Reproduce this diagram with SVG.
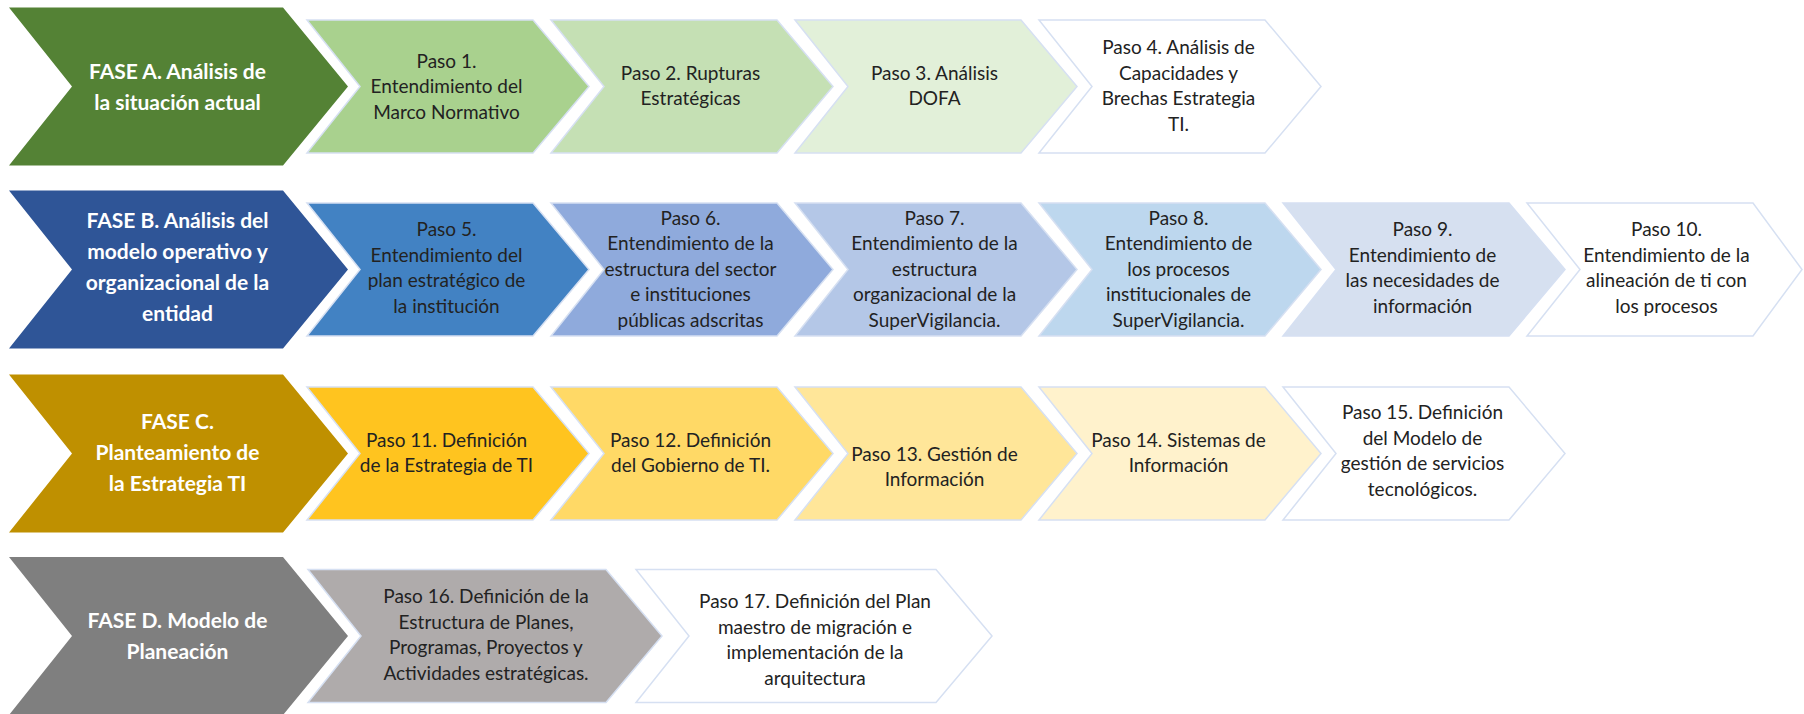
<svg xmlns="http://www.w3.org/2000/svg" width="1804" height="714" viewBox="0 0 1804 714">
<style>
.fase{stroke:none}
.step{stroke:#D6E0F2;stroke-width:1.5}
.ft{font-family:Lato,"Liberation Sans",sans-serif;font-weight:bold;font-size:21px;fill:#FFFFFF;text-anchor:middle}
.st{font-family:Lato,"Liberation Sans",sans-serif;font-size:19px;fill:#222222;text-anchor:middle}
.gA{fill:#548235}.a1{fill:#A9D18E}.a2{fill:#C5E0B4}.a3{fill:#E2F0D9}
.gB{fill:#2F5597}.b1{fill:#4282C3}.b2{fill:#8FAADC}.b3{fill:#B4C7E7}.b4{fill:#BDD7EE}.b5{fill:#D6E0F0}
.gC{fill:#BF9000}.c1{fill:#FFC41F}.c2{fill:#FFD966}.c3{fill:#FFE699}.c4{fill:#FFF2CC}
.gD{fill:#7F7F7F}.d1{fill:#AFABAB}
.w{fill:#FFFFFF}
</style>
<rect width="1804" height="714" fill="#FFFFFF"/>

<!-- Row A -->
<g id="faseA"><polygon class="fase gA" points="9,7.5 283,7.5 348,86.5 283,165.5 9,165.5 72,86.5"/>
<text class="ft" x="177.5" y="78.5">FASE A. Análisis de<tspan x="177.5" dy="31">la situación actual</tspan></text></g>
<g id="paso1"><polygon class="step a1" points="307,20 533,20 589,86.5 533,153 307,153 360,86.5"/>
<text class="st" x="446.5" y="67.5">Paso 1.<tspan x="446.5" dy="25.5">Entendimiento del</tspan><tspan x="446.5" dy="25.5">Marco Normativo</tspan></text></g>
<g id="paso2"><polygon class="step a2" points="551,20 777,20 833,86.5 777,153 551,153 604,86.5"/>
<text class="st" x="690.5" y="79.75">Paso 2. Rupturas<tspan x="690.5" dy="25.5">Estratégicas</tspan></text></g>
<g id="paso3"><polygon class="step a3" points="795,20 1021,20 1077,86.5 1021,153 795,153 848,86.5"/>
<text class="st" x="934.5" y="79.75">Paso 3. Análisis<tspan x="934.5" dy="25.5">DOFA</tspan></text></g>
<g id="paso4"><polygon class="step w" points="1039,20 1265,20 1321,86.5 1265,153 1039,153 1092,86.5"/>
<text class="st" x="1178.5" y="54.25">Paso 4. Análisis de<tspan x="1178.5" dy="25.5">Capacidades y</tspan><tspan x="1178.5" dy="25.5">Brechas Estrategia</tspan><tspan x="1178.5" dy="25.5">TI.</tspan></text></g>

<!-- Row B -->
<g id="faseB"><polygon class="fase gB" points="9,190.5 283,190.5 348,269.5 283,348.5 9,348.5 72,269.5"/>
<text class="ft" x="177.5" y="228">FASE B. Análisis del<tspan x="177.5" dy="31">modelo operativo y</tspan><tspan x="177.5" dy="31">organizacional de la</tspan><tspan x="177.5" dy="31">entidad</tspan></text></g>
<g id="paso5"><polygon class="step b1" points="307,203 533,203 589,269.5 533,336 307,336 360,269.5"/>
<text class="st" x="446.5" y="236.25">Paso 5.<tspan x="446.5" dy="25.5">Entendimiento del</tspan><tspan x="446.5" dy="25.5">plan estratégico de</tspan><tspan x="446.5" dy="25.5">la institución</tspan></text></g>
<g id="paso6"><polygon class="step b2" points="551,203 777,203 833,269.5 777,336 551,336 604,269.5"/>
<text class="st" x="690.5" y="224.5">Paso 6.<tspan x="690.5" dy="25.5">Entendimiento de la</tspan><tspan x="690.5" dy="25.5">estructura del sector</tspan><tspan x="690.5" dy="25.5">e instituciones</tspan><tspan x="690.5" dy="25.5">públicas adscritas</tspan></text></g>
<g id="paso7"><polygon class="step b3" points="795,203 1021,203 1077,269.5 1021,336 795,336 848,269.5"/>
<text class="st" x="934.5" y="224.5">Paso 7.<tspan x="934.5" dy="25.5">Entendimiento de la</tspan><tspan x="934.5" dy="25.5">estructura</tspan><tspan x="934.5" dy="25.5">organizacional de la</tspan><tspan x="934.5" dy="25.5">SuperVigilancia.</tspan></text></g>
<g id="paso8"><polygon class="step b4" points="1039,203 1265,203 1321,269.5 1265,336 1039,336 1092,269.5"/>
<text class="st" x="1178.5" y="224.5">Paso 8.<tspan x="1178.5" dy="25.5">Entendimiento de</tspan><tspan x="1178.5" dy="25.5">los procesos</tspan><tspan x="1178.5" dy="25.5">institucionales de</tspan><tspan x="1178.5" dy="25.5">SuperVigilancia.</tspan></text></g>
<g id="paso9"><polygon class="step b5" points="1283,203 1509,203 1565,269.5 1509,336 1283,336 1336,269.5"/>
<text class="st" x="1422.5" y="236.25">Paso 9.<tspan x="1422.5" dy="25.5">Entendimiento de</tspan><tspan x="1422.5" dy="25.5">las necesidades de</tspan><tspan x="1422.5" dy="25.5">información</tspan></text></g>
<g id="paso10"><polygon class="step w" points="1527,203 1753,203 1802,269.5 1753,336 1527,336 1580,269.5"/>
<text class="st" x="1666.5" y="236.25">Paso 10.<tspan x="1666.5" dy="25.5">Entendimiento de la</tspan><tspan x="1666.5" dy="25.5">alineación de ti con</tspan><tspan x="1666.5" dy="25.5">los procesos</tspan></text></g>

<!-- Row C -->
<g id="faseC"><polygon class="fase gC" points="9,374.5 283,374.5 348,453.5 283,532.5 9,532.5 72,453.5"/>
<text class="ft" x="177.5" y="428.5">FASE C.<tspan x="177.5" dy="31">Planteamiento de</tspan><tspan x="177.5" dy="31">la Estrategia TI</tspan></text></g>
<g id="paso11"><polygon class="step c1" points="307,387 533,387 589,453.5 533,520 307,520 360,453.5"/>
<text class="st" x="446.5" y="446.75">Paso 11. Definición<tspan x="446.5" dy="25.5">de la Estrategia de TI</tspan></text></g>
<g id="paso12"><polygon class="step c2" points="551,387 777,387 833,453.5 777,520 551,520 604,453.5"/>
<text class="st" x="690.5" y="446.75">Paso 12. Definición<tspan x="690.5" dy="25.5">del Gobierno de TI.</tspan></text></g>
<g id="paso13"><polygon class="step c3" points="795,387 1021,387 1077,453.5 1021,520 795,520 848,453.5"/>
<text class="st" x="934.5" y="460.75">Paso 13. Gestión de<tspan x="934.5" dy="25.5">Información</tspan></text></g>
<g id="paso14"><polygon class="step c4" points="1039,387 1265,387 1321,453.5 1265,520 1039,520 1092,453.5"/>
<text class="st" x="1178.5" y="446.75">Paso 14. Sistemas de<tspan x="1178.5" dy="25.5">Información</tspan></text></g>
<g id="paso15"><polygon class="step w" points="1283,387 1509,387 1565,453.5 1509,520 1283,520 1336,453.5"/>
<text class="st" x="1422.5" y="419.25">Paso 15. Definición<tspan x="1422.5" dy="25.5">del Modelo de</tspan><tspan x="1422.5" dy="25.5">gestión de servicios</tspan><tspan x="1422.5" dy="25.5">tecnológicos.</tspan></text></g>

<!-- Row D -->
<g id="faseD"><polygon class="fase gD" points="9,557 283,557 348,636 283,715 9,715 72,636"/>
<text class="ft" x="177.5" y="628">FASE D. Modelo de<tspan x="177.5" dy="31">Planeación</tspan></text></g>
<g id="paso16"><polygon class="step d1" points="308,569.5 606,569.5 662,636 606,702.5 308,702.5 361,636"/>
<text class="st" x="486" y="603.25">Paso 16. Definición de la<tspan x="486" dy="25.5">Estructura de Planes,</tspan><tspan x="486" dy="25.5">Programas, Proyectos y</tspan><tspan x="486" dy="25.5">Actividades estratégicas.</tspan></text></g>
<g id="paso17"><polygon class="step w" points="636,569.5 936,569.5 992,636 936,702.5 636,702.5 689,636"/>
<text class="st" x="815" y="608.25">Paso 17. Definición del Plan<tspan x="815" dy="25.5">maestro de migración e</tspan><tspan x="815" dy="25.5">implementación de la</tspan><tspan x="815" dy="25.5">arquitectura</tspan></text></g>
</svg>
